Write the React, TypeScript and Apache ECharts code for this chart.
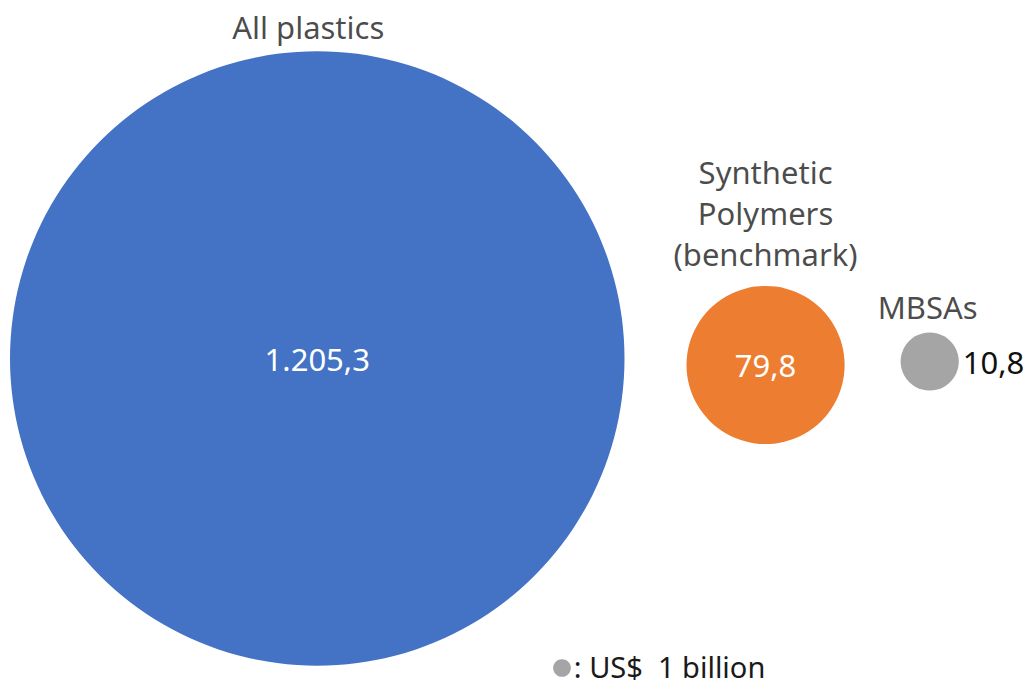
import React, { useEffect, useRef } from "react";
import * as echarts from "echarts";

// ---- data ----
const categories: string[] = ["All plastics", "Synthetic\nPolymers\n(benchmark)", "MBSAs"];
const values: number[] = [1205.3, 79.8, 10.8];
const valueLabels: string[] = ["1.205,3", "79,8", "10,8"];
const legendValue: number = 1;
const legendLabel: string = ": US$  1 billion";

// ---- style / layout ----
const colors = ["#4472C4", "#ED7D31", "#A5A5A5"];
const PX_PER_SQRT = 8.85; // radius in px per sqrt(US$ billion)
const LEFT = 10;
const GAPS = [62, 56];
const CENTER_Y = [358.5, 365, 361.5];
const FONT = "'Noto Sans', sans-serif";
const FS = 31;

const radius = (v: number) => PX_PER_SQRT * Math.sqrt(v);

export default function App() {
  const ref = useRef<HTMLDivElement>(null);
  useEffect(() => {
    if (!ref.current) return;
    const chart = echarts.init(ref.current, undefined, { renderer: "svg" });
    const radii = values.map(radius);
    const xs: number[] = [];
    let cursor = LEFT;
    radii.forEach((r, i) => {
      if (i > 0) cursor += GAPS[i - 1];
      xs.push(cursor + r);
      cursor += 2 * r;
    });

    const bubbleData = values.map((v, i) => ({
      value: [xs[i], CENTER_Y[i], v],
      symbolSize: 2 * radii[i],
      itemStyle: { color: colors[i], opacity: 1 },
      label:
        i === 2
          ? { show: true, position: "right", distance: 4, color: "#111111", formatter: valueLabels[i] }
          : { show: true, position: "inside", color: "#ffffff", formatter: valueLabels[i] },
    }));

    const nameDist = [5, 11, 6];
    const nameData = values.map((v, i) => ({
      value: [xs[i], CENTER_Y[i], v],
      symbolSize: 2 * radii[i],
      label: {
        show: true,
        position: "top",
        distance: nameDist[i],
        formatter: categories[i],
        offset: i === 0 ? [-9, 0] : i === 2 ? [-2, 0] : [0, 0],
        lineHeight: i === 1 ? 41 : 38,
      },
    }));

    chart.setOption({
      animation: false,
      grid: { left: 0, right: 0, top: 0, bottom: 0 },
      xAxis: { type: "value", min: 0, max: 1033, show: false },
      yAxis: { type: "value", min: 0, max: 685, inverse: true, show: false },
      series: [
        {
          type: "scatter",
          data: bubbleData,
          label: { fontSize: FS, fontFamily: FONT },
          silent: true,
        },
        {
          type: "scatter",
          data: nameData,
          itemStyle: { color: "rgba(0,0,0,0)" },
          label: { fontSize: FS, fontFamily: FONT, color: "#1a1a1a", align: "center" },
          silent: true,
        },
        {
          type: "scatter",
          data: [
            {
              value: [562, 668, legendValue],
              symbolSize: 2 * radius(legendValue),
              itemStyle: { color: colors[2], opacity: 1 },
              label: {
                show: true,
                position: "right",
                distance: 3,
                formatter: legendLabel,
                fontSize: 29,
                lineHeight: 28,
                fontFamily: FONT,
                color: "#1a1a1a",
                offset: [0, -2],
              },
            },
          ],
          silent: true,
        },
      ],
    });
    return () => chart.dispose();
  }, []);
  return (
    <div
      ref={ref}
      style={{ position: "absolute", left: 0, top: 0, width: 1033, height: 685, background: "#ffffff" }}
    />
  );
}
